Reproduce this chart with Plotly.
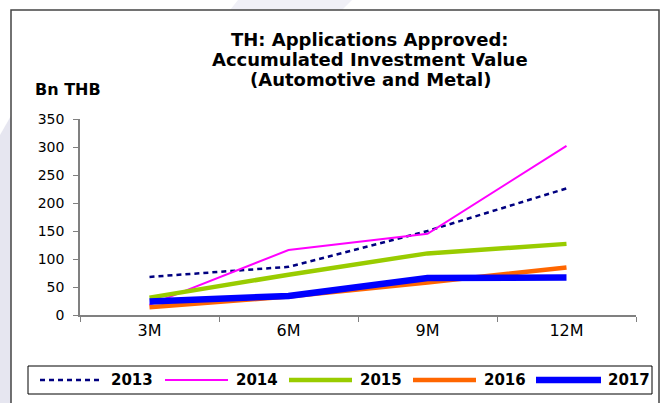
import plotly.graph_objects as go

# ---- data -------------------------------------------------------------
periods = ["3M", "6M", "9M", "12M"]
years = ["2013", "2014", "2015", "2016", "2017"]
v2013 = [68, 86, 150, 226]
v2014 = [18, 116, 145, 302]
v2015 = [31, 72, 110, 127]
v2016 = [14, 33, 58, 85]
v2017 = [24, 34, 66, 67]
series = [v2013, v2014, v2015, v2016, v2017]
y_ticks = [0, 50, 100, 150, 200, 250, 300, 350]

title_lines = ["TH: Applications Approved:",
               "Accumulated Investment Value",
               "(Automotive and Metal)"]
unit_label = "Bn THB"

# ---- styling ----------------------------------------------------------
colors = ["#000080", "#FF00FF", "#99CC00", "#FF6600", "#0000FF"]
widths = [2.5, 2, 4.5, 4.5, 6.5]
dashes = ["5px,4px", "solid", "solid", "solid", "solid"]

W, H = 664, 403
L, R, T, B = 80, 636, 119, 315          # plot-area edges in pixels


def px(x):
    return (x - L) / (R - L)


def py(y):
    return (B - y) / (B - T)


fig = go.Figure()
for name, vals, c, w, d in zip(years, series, colors, widths, dashes):
    fig.add_trace(go.Scatter(
        x=periods, y=vals, name=name, mode="lines",
        line=dict(color=c, width=w, dash=d),
        showlegend=False,
    ))

shapes = []
# faint background watermark pieces
shapes.append(dict(type="path", xref="paper", yref="paper", layer="below",
                   path=f"M{px(0)},{py(135)} L{px(12)},{py(114)} L{px(12)},{py(403)} L{px(0)},{py(403)} Z",
                   fillcolor="#E6E6F0", line=dict(width=0)))
shapes.append(dict(type="path", xref="paper", yref="paper", layer="below",
                   path=f"M{px(238)},{py(0)} L{px(352)},{py(0)} L{px(342)},{py(10)} L{px(230)},{py(10)} Z",
                   fillcolor="#F0F0F7", line=dict(width=0)))
# outer chart frame
shapes.append(dict(type="rect", xref="paper", yref="paper", layer="below",
                   x0=px(11), x1=px(659), y0=py(10), y1=py(412),
                   fillcolor="white", line=dict(color="#444444", width=1.5)))
# legend box
shapes.append(dict(type="rect", xref="paper", yref="paper", layer="above",
                   x0=px(28), x1=px(652), y0=py(366), y1=py(394),
                   fillcolor="rgba(0,0,0,0)", line=dict(color="#000000", width=1)))

annotations = []
for i, line in enumerate(title_lines):
    annotations.append(dict(text=f"<b>{line}</b>", xref="paper", yref="paper",
                            x=px(370), y=py(39 + 20.5 * i), xanchor="center", yanchor="middle",
                            showarrow=False,
                            font=dict(family="DejaVu Sans", size=18, color="#000000")))
annotations.append(dict(text=f"<b>{unit_label}</b>", xref="paper", yref="paper",
                        x=px(33), y=py(90), xanchor="left", yanchor="middle", showarrow=False,
                        font=dict(family="DejaVu Sans", size=16, color="#000000")))

# hand-laid legend row
legend_slots = [(40, 102, 109), (165, 228, 234), (289, 352, 358), (413, 476, 482), (536, 601, 606)]
ly = 380
for name, c, w, d, (x0, x1, xt) in zip(years, colors, widths, dashes, legend_slots):
    shapes.append(dict(type="line", xref="paper", yref="paper", layer="above",
                       x0=px(x0), x1=px(x1), y0=py(ly), y1=py(ly),
                       line=dict(color=c, width=w, dash=d)))
    annotations.append(dict(text=f"<b>{name}</b>", xref="paper", yref="paper",
                            x=px(xt), y=py(ly), xanchor="left", yanchor="middle", showarrow=False,
                            font=dict(family="DejaVu Sans", size=15, color="#000000")))

fig.update_layout(
    width=W, height=H,
    margin=dict(l=L, r=W - R, t=T, b=H - B, pad=0),
    paper_bgcolor="white", plot_bgcolor="rgba(0,0,0,0)",
    shapes=shapes, annotations=annotations,
    showlegend=False,
    xaxis=dict(type="category", range=[-0.5, 3.5], tickson="boundaries",
               ticks="outside", ticklen=5, tickcolor="#808080", tickwidth=1,
               showline=True, linecolor="#808080", linewidth=1.5,
               showgrid=False, zeroline=False, fixedrange=True,
               tickfont=dict(family="DejaVu Sans", size=16, color="#000000")),
    yaxis=dict(range=[0, 350], tickvals=y_ticks,
               ticks="outside", ticklen=5, tickcolor="#808080", tickwidth=1,
               showline=True, linecolor="#808080", linewidth=1.5,
               showgrid=False, zeroline=False, fixedrange=True,
               ticklabelstandoff=6,
               tickfont=dict(family="DejaVu Sans", size=14, color="#000000")),
)

fig.write_html("out.html", config={"displayModeBar": False})
